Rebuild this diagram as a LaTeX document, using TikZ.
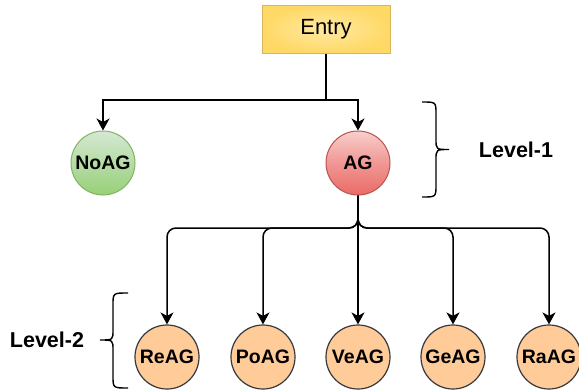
\documentclass[tikz,border=0pt]{standalone}
\usepackage{fontspec}
\setmainfont{Liberation Sans}
\usetikzlibrary{arrows.meta}
\definecolor{entrytop}{HTML}{FFF2CC}
\definecolor{entrybot}{HTML}{FFD966}
\definecolor{entryline}{HTML}{D6B656}
\definecolor{gtop}{HTML}{D5E8D4}
\definecolor{gbot}{HTML}{97D077}
\definecolor{gline}{HTML}{82B366}
\definecolor{rtop}{HTML}{F8CECC}
\definecolor{rbot}{HTML}{EA6B66}
\definecolor{rline}{HTML}{B85450}
\definecolor{ofill}{HTML}{FFCC99}
\definecolor{oline}{HTML}{36393D}
\begin{document}
\begin{tikzpicture}[x=1pt,y=-1pt,
  circ/.style={circle,minimum size=64pt,inner sep=0pt,line width=1pt,
    font=\fontsize{19.5}{22}\selectfont\bfseries},
  greennode/.style={circ,draw=gline,top color=gtop,bottom color=gbot,middle color=gtop!50!gbot},
  rednode/.style={circ,draw=rline,top color=rtop,bottom color=rbot,middle color=rtop!45!rbot},
  orangenode/.style={circ,draw=oline,fill=ofill,line width=1.2pt},
  entrybox/.style={rectangle,minimum width=128pt,minimum height=48pt,inner sep=0pt,
    draw=entryline,line width=1pt,inner color=entrytop!60!entrybot,outer color=entrybot,
    font=\fontsize{22}{25}\selectfont},
  conn/.style={line width=1.5pt,-{Stealth[length=12pt,width=13pt,inset=3.5pt]}},
  brace/.style={line width=1.4pt,black},
  lvl/.style={font=\fontsize{21.5}{25}\selectfont\bfseries,inner sep=0pt}
]
\useasboundingbox (0,0) rectangle (579,389);

\node[entrybox] (entry) at (326,29) {\raisebox{-2pt}{Entry}};
\node[greennode] (noag) at (103,163) {NoAG};
\node[rednode] (ag) at (358,163) {AG};

\node[orangenode] (reag) at (167,357) {ReAG};
\node[orangenode] (poag) at (263,357) {PoAG};
\node[orangenode] (veag) at (358,357) {VeAG};
\node[orangenode] (geag) at (453,357) {GeAG};
\node[orangenode] (raag) at (549,357) {RaAG};

\coordinate (j1) at (326,100);
\coordinate (j2) at (358,228);

\draw[line width=1.5pt] (entry.south) -- (j1);
\draw[conn] (j1) -| (noag.north);
\draw[conn] (j1) -| (ag.north);

\draw[conn,rounded corners=9pt] (ag.south) -- (j2) -| (reag.north);
\draw[conn,rounded corners=9pt] (ag.south) -- (j2) -| (poag.north);
\draw[conn] (ag.south) -- (veag.north);
\draw[conn,rounded corners=9pt] (ag.south) -- (j2) -| (geag.north);
\draw[conn,rounded corners=9pt] (ag.south) -- (j2) -| (raag.north);

% Level-1 brace (pointing right)
\draw[brace] (422,102) .. controls (436,102) .. (436,114) -- (436,139)
  .. controls (436,149.5) .. (449,149.5) .. controls (436,149.5) .. (436,160)
  -- (436,185) .. controls (436,197) .. (422,197);
\node[lvl] (lvl1) at (516,150) {Level-1};

% Level-2 brace (pointing left)
\draw[brace] (128,293) .. controls (113,293) .. (113,305) -- (113,330)
  .. controls (113,340) .. (100,340) .. controls (113,340) .. (113,350)
  -- (113,376) .. controls (113,388) .. (128,388);
\node[lvl] (lvl2) at (47,340) {Level-2};
\end{tikzpicture}
\end{document}
